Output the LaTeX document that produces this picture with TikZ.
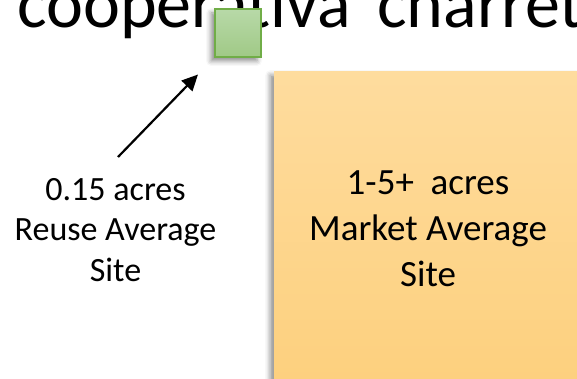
\documentclass[tikz,border=0pt]{standalone}
\usepackage{fontspec}
\setmainfont{Carlito}
\definecolor{lotgreen}{RGB}{112, 173, 71}
\definecolor{lotgreentop}{RGB}{184, 217, 168}
\definecolor{lotgreenbot}{RGB}{160, 201, 134}
\definecolor{markettop}{RGB}{254, 220, 158}
\definecolor{marketbot}{RGB}{253, 207, 123}
\usetikzlibrary{arrows.meta, shadows.blur}

\begin{document}
\begin{tikzpicture}[x=1pt, y=-1pt,
  siteshadow/.style={blur shadow={shadow xshift=-4pt, shadow yshift=-4pt, shadow blur radius=5pt, shadow opacity=45}},
  sitelabel/.style={align=center, inner sep=0pt}]
  \useasboundingbox (0, 0) rectangle (577, 379);
  \clip (0, 0) rectangle (577, 379);
  % big site, runs off the slide
  \node[siteshadow, top color=markettop, bottom color=marketbot, minimum width=340pt, minimum height=340pt, inner sep=0pt, anchor=north west] (market) at (274, 71) {};
  % title sits behind the small site
  \node[anchor=base west, inner sep=0pt, font=\fontsize{70}{82}\selectfont] (title) at (17, 28) {cooperativa\hspace{0.38em}charrette};
  % small site
  \node[siteshadow, draw=lotgreen, line width=2pt, top color=lotgreentop, bottom color=lotgreenbot, minimum width=46pt, minimum height=48pt, inner sep=0pt, anchor=north west] (reuse) at (214, 8) {};
  \node[sitelabel, font=\fontsize{34}{40.5}\selectfont, anchor=north] (reuselabel) at (115.5, 178) {0.15 acres\\Reuse Average\\Site};
  \node[sitelabel, font=\fontsize{37}{46}\selectfont, anchor=north] (marketlabel) at (428, 170) {1-5+\ \ acres\\Market Average\\Site};
  \coordinate (arrowtail) at (118, 157);
  \draw[-{Triangle[length=16pt, width=15pt]}, line width=2.2pt, shorten >=23pt] (arrowtail) -- (reuse.south west);
\end{tikzpicture}
\end{document}
